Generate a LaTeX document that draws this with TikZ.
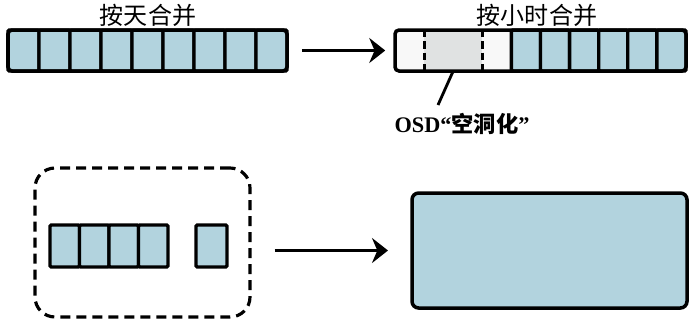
\documentclass[tikz,border=0pt]{standalone}
\usepackage{fontspec}
\usepackage{xcolor}
\usepackage{tikz}
\usetikzlibrary{arrows.meta, positioning, calc, fit}
\setmainfont{Liberation Serif}
\newfontfamily\cjk{Noto Sans CJK SC}
\definecolor{celestito}{RGB}{178,211,222}
\definecolor{grisito}{RGB}{224,226,226}
\definecolor{blanquito}{RGB}{248,248,248}
\tikzset{
  cell/.style={draw, line width=1mm, fill=celestito, rounded corners=0.4mm, inner sep=0pt, outer sep=0pt, minimum height=12.3mm},
  emptycell/.style={inner sep=0pt, outer sep=0pt, minimum height=12.3mm},
  frame/.style={draw, line width=1.05mm, rounded corners=1.2mm, inner sep=0pt},
  divider/.style={line width=0.9mm, dash pattern=on 2.2mm off 1.2mm},
  flow/.style={line width=0.95mm, -{Stealth[length=4.8mm, width=7.5mm, inset=1.6mm]}},
  title/.style={font=\cjk\fontsize{20.5}{20.5}\selectfont, inner sep=0pt}
}

\begin{document}
\begin{tikzpicture}[x=0.3mm, y=-0.3mm]
        \useasboundingbox (0,0) rectangle (700,327);
        % merge by day
        \foreach \i in {1,...,9}
          \node[cell, minimum width=9.3mm] (d\i) at ({8+31*(\i-0.5)},50.5) {};
        \node[frame, fit=(d1)(d9)] (dayrow) {};
        \node[title] (daytitle) at (148,15) {按天合并};

        % merge by hour
        \node[emptycell, fill=blanquito, minimum width=8.73mm] (h1) at ({395+29.1*0.5},50.5) {};
        \node[emptycell, fill=grisito, minimum width=17.46mm] (hgap) at ({395+29.1*2},50.5) {};
        \node[emptycell, fill=blanquito, minimum width=8.73mm] (h4) at ({395+29.1*3.5},50.5) {};
        \foreach \i in {5,...,10}
          \node[cell, minimum width=8.73mm] (h\i) at ({395+29.1*(\i-0.5)},50.5) {};
        \draw[divider] (hgap.north west) -- (hgap.south west);
        \draw[divider] (hgap.north east) -- (hgap.south east);
        \node[frame, fit=(h1)(h10)] (hourrow) {};
        \node[title] (hourtitle) at (537,15) {按小时合并};

        \draw[flow, shorten <=3.9mm, shorten >=2.4mm] (dayrow) -- (hourrow);

        % hole
        \coordinate (tip) at (438,105);
        \draw[line width=0.85mm] (hgap.south) -- (tip);
        \node[inner sep=0pt, font=\bfseries\fontsize{19}{19}\selectfont] (osd) at (462,124) {OSD“{\cjk 空洞化}”};

        % small objects
        \node[draw, line width=0.95mm, dash pattern=on 3mm off 1.8mm, rounded corners=6mm, minimum width=64.5mm, minimum height=44.7mm] (group) at (142.5,242.5) {};
        \foreach \i in {1,...,4}
          \node[cell, minimum width=8.85mm, minimum height=12.6mm] (b\i) at ({50+29.5*(\i-0.5)},246) {};
        \node[cell, minimum width=9.3mm, minimum height=12.6mm] (b5) at (211.5,246) {};

        % merged object
        \node[cell, line width=1.05mm, rounded corners=2mm, minimum width=82.5mm, minimum height=34.5mm] (merged) at (549.5,250.5) {};

        \draw[flow, shorten <=6.9mm, shorten >=7.2mm] (merged.west -| group.east) -- (merged.west);
      \end{tikzpicture}
\end{document}
